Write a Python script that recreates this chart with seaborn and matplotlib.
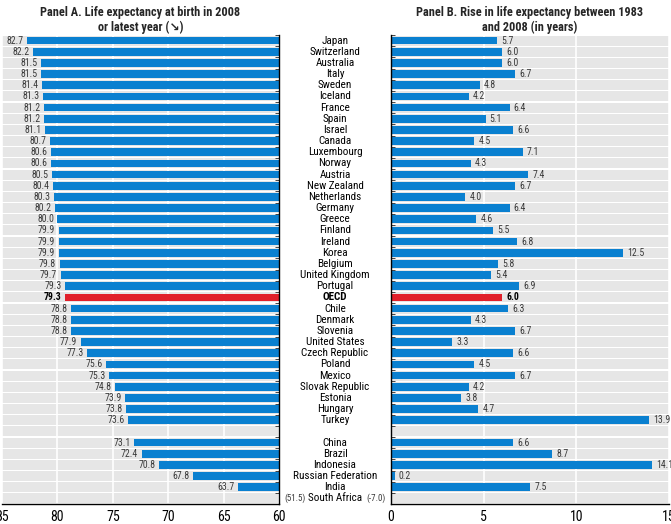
import matplotlib
matplotlib.use("Agg")
import matplotlib.pyplot as plt
import matplotlib.transforms as mtransforms
from matplotlib import font_manager
import numpy as np
import pandas as pd
import seaborn as sns

# Data
countries = [
    "Japan", "Switzerland", "Australia", "Italy", "Sweden", "Iceland", "France",
    "Spain", "Israel", "Canada", "Luxembourg", "Norway", "Austria", "New Zealand",
    "Netherlands", "Germany", "Greece", "Finland", "Ireland", "Korea", "Belgium",
    "United Kingdom", "Portugal", "OECD", "Chile", "Denmark", "Slovenia",
    "United States", "Czech Republic", "Poland", "Mexico", "Slovak Republic",
    "Estonia", "Hungary", "Turkey", " ", "China", "Brazil", "Indonesia",
    "Russian Federation", "India", "South Africa",
]
life_2008 = [
    82.7, 82.2, 81.5, 81.5, 81.4, 81.3, 81.2, 81.2, 81.1, 80.7, 80.6, 80.6,
    80.5, 80.4, 80.3, 80.2, 80.0, 79.9, 79.9, 79.9, 79.8, 79.7, 79.3, 79.3,
    78.8, 78.8, 78.8, 77.9, 77.3, 75.6, 75.3, 74.8, 73.9, 73.8, 73.6, np.nan,
    73.1, 72.4, 70.8, 67.8, 63.7, 51.5,
]
rise_83_08 = [
    5.7, 6.0, 6.0, 6.7, 4.8, 4.2, 6.4, 5.1, 6.6, 4.5, 7.1, 4.3, 7.4, 6.7, 4.0,
    6.4, 4.6, 5.5, 6.8, 12.5, 5.8, 5.4, 6.9, 6.0, 6.3, 4.3, 6.7, 3.3, 6.6, 4.5,
    6.7, 4.2, 3.8, 4.7, 13.9, np.nan, 6.6, 8.7, 14.1, 0.2, 7.5, -7.0,
]
left_ticks = [85, 80, 75, 70, 65, 60]
right_ticks = [0, 5, 10, 15]

BLUE = "#0a80d0"
RED = "#e1202a"
BAND = "#e6e6e6"
TXT = "#3a3a3a"

# pick a condensed font if one is installed
installed = {f.name for f in font_manager.fontManager.ttflist}
narrow = [f for f in ["Roboto Condensed", "Liberation Sans Narrow", "Archivo Narrow",
                      "PT Sans Narrow", "Arial Narrow", "Fira Sans Condensed",
                      "IBM Plex Sans Condensed", "Encode Sans Condensed",
                      "Open Sans Condensed", "Pragati Narrow"] if f in installed]
FONT = narrow[:1] + ["DejaVu Sans"]

df = pd.DataFrame({"country": countries, "life": life_2008, "rise": rise_83_08})
palette = {c: (RED if c == "OECD" else BLUE) for c in countries}

sns.set_style("white")
plt.rcParams["font.family"] = FONT

fig = plt.figure(figsize=(6.71, 5.24), dpi=100)
ax1 = fig.add_axes([2 / 671, 1 - 504 / 524, 277 / 671, 469 / 524])
ax2 = fig.add_axes([391 / 671, 1 - 504 / 524, 278 / 671, 469 / 524])

n = len(countries)
rows = np.arange(n)


def draw_panel(ax, col, lim, ticks):
    # grey row bands behind everything
    ax.barh(rows, abs(lim[1] - lim[0]), left=min(lim), height=0.9,
            color=BAND, zorder=0.2, linewidth=0)
    sns.barplot(data=df, x=col, y="country", hue="country", palette=palette,
                order=countries, hue_order=countries, legend=False,
                errorbar=None, saturation=1, width=0.68, orient="h", ax=ax,
                zorder=2, linewidth=0)
    ax.set_xlim(*lim)
    ax.set_ylim(n - 0.5, -0.5)
    ax.set_xticks(ticks)
    ax.set_xticklabels([str(t) for t in ticks], fontsize=10)
    ax.set_yticks([])
    ax.set_xlabel("")
    ax.set_ylabel("")
    ax.set_axisbelow(True)
    ax.grid(axis="x", color="white", linewidth=1.2)
    ax.grid(axis="y", visible=False)
    for s in ["top", "left", "right"]:
        ax.spines[s].set_visible(False)
    ax.spines["bottom"].set_color("black")
    ax.spines["bottom"].set_linewidth(1)
    ax.tick_params(axis="x", direction="inout", length=5, width=0.8,
                   pad=2, colors="black")


draw_panel(ax1, "life", (85, 60), left_ticks)
draw_panel(ax2, "rise", (0, 15), right_ticks)

# inner spines with row-boundary tick marks
ax1.spines["right"].set_visible(True)
ax1.spines["right"].set_color("black")
ax1.spines["right"].set_linewidth(1)
ax1.yaxis.tick_right()
ax1.set_yticks(np.arange(n + 1) - 0.5, minor=True)
ax1.tick_params(axis="y", which="minor", direction="in", length=3, width=0.6,
                right=True, left=False)
ax2.spines["left"].set_visible(True)
ax2.spines["left"].set_color("black")
ax2.spines["left"].set_linewidth(1)
ax2.set_yticks(np.arange(n + 1) - 0.5, minor=True)
ax2.tick_params(axis="y", which="minor", direction="in", length=3, width=0.6,
                left=True, right=False)

# value labels
for i, (c, v1, v2) in enumerate(zip(countries, life_2008, rise_83_08)):
    if np.isnan(v1):
        continue
    w = "bold" if c == "OECD" else "normal"
    col = "black" if c == "OECD" else TXT
    if v1 >= 60:
        ax1.annotate(f"{v1:.1f}", (v1, i), xytext=(-2.5, 0),
                     textcoords="offset points", ha="right", va="center",
                     fontsize=7, color=col, fontweight=w)
    else:
        # off-scale value shown in brackets next to the axis
        ax1.annotate(f"({v1:.1f})", (60, i), xytext=(4, 0),
                     textcoords="offset points", ha="left", va="center",
                     fontsize=6.5, color=TXT, annotation_clip=False)
    if v2 >= 0:
        ax2.annotate(f"{v2:.1f}", (v2, i), xytext=(3, 0),
                     textcoords="offset points", ha="left", va="center",
                     fontsize=7, color=col, fontweight=w)
    else:
        ax2.annotate(f"({v2:.1f})", (0, i), xytext=(-4, 0),
                     textcoords="offset points", ha="right", va="center",
                     fontsize=6.5, color=TXT, annotation_clip=False)

# country names in the middle column
trans = mtransforms.blended_transform_factory(fig.transFigure, ax1.transData)
for i, c in enumerate(countries):
    ax1.text(335 / 671, i, c, transform=trans, ha="center", va="center",
             fontsize=8, color="black",
             fontweight="bold" if c == "OECD" else "normal", clip_on=False)

# panel titles
ax1.set_title("Panel A. Life expectancy at birth in 2008\nor latest year (↘)",
              fontsize=8.8, fontweight="bold", pad=3, linespacing=1.15)
ax2.set_title("Panel B. Rise in life expectancy between 1983\nand 2008 (in years)",
              fontsize=8.8, fontweight="bold", pad=3, linespacing=1.15)

fig.savefig("out.png", dpi=100)
